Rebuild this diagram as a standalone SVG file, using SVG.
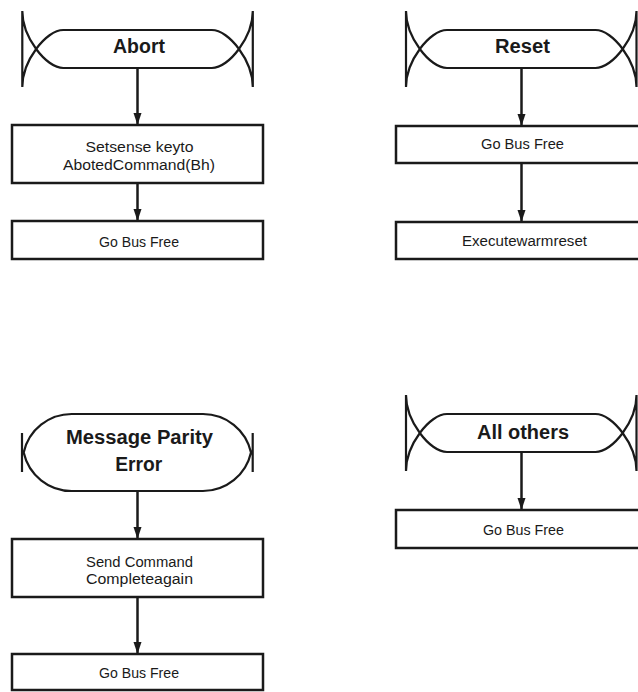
<svg xmlns="http://www.w3.org/2000/svg" xmlns:xlink="http://www.w3.org/1999/xlink" width="638" height="692" viewBox="0 0 638 692">
<style>
  .shape { fill: none; stroke: #1a1a1a; stroke-width: 2.2; }
  .box { fill: #ffffff; stroke: #1a1a1a; stroke-width: 2.5; }
  .conn { stroke: #1a1a1a; stroke-width: 2.5; fill: none; }
  .head { font-family: "Liberation Sans", Arial, sans-serif; font-weight: bold; font-size: 20px; fill: #1a1a1a; text-anchor: middle; }
  .lbl { font-family: "Liberation Sans", Arial, sans-serif; font-size: 15.5px; fill: #1a1a1a; text-anchor: middle; }
</style>
<defs>
  <path id="term" d="M0,0 V76 M230.5,0 V76 M41,19 H189.5 M41,57 H189.5 M41,19 C23.7,19 0,50 0,76 M41,57 C23.7,57 0,26 0,0 M189.5,19 C206.8,19 230.5,50 230.5,76 M189.5,57 C206.8,57 230.5,26 230.5,0"/>
  <marker id="arr" markerUnits="userSpaceOnUse" markerWidth="13" markerHeight="9" refX="12" refY="4.5" orient="auto">
    <path d="M0,0.5 L12,4.5 L0,8.5 Z" fill="#1a1a1a"/>
  </marker>
</defs>

<g id="connectors">
  <line class="conn" x1="137.5" y1="68" x2="137.5" y2="125" marker-end="url(#arr)"/>
  <line class="conn" x1="137.5" y1="183" x2="137.5" y2="221" marker-end="url(#arr)"/>
  <line class="conn" x1="521.5" y1="68" x2="521.5" y2="126" marker-end="url(#arr)"/>
  <line class="conn" x1="521.5" y1="163" x2="521.5" y2="222" marker-end="url(#arr)"/>
  <line class="conn" x1="137.5" y1="491" x2="137.5" y2="539" marker-end="url(#arr)"/>
  <line class="conn" x1="137.5" y1="597" x2="137.5" y2="654" marker-end="url(#arr)"/>
  <line class="conn" x1="521.5" y1="452" x2="521.5" y2="510" marker-end="url(#arr)"/>
</g>

<g id="abort">
  <use xlink:href="#term" href="#term" class="shape" transform="translate(22.3,11)"/>
  <text class="head" x="139" y="53.3" textLength="52" lengthAdjust="spacingAndGlyphs">Abort</text>
</g>
<g id="abort-setsense">
  <rect class="box" x="12" y="125" width="251" height="58"/>
  <text class="lbl" x="139.5" y="151.5" textLength="108" lengthAdjust="spacingAndGlyphs">Setsense keyto</text>
  <text class="lbl" x="139" y="169.5" textLength="152" lengthAdjust="spacingAndGlyphs">AbotedCommand(Bh)</text>
</g>
<g id="abort-gobusfree">
  <rect class="box" x="12" y="221" width="251" height="38"/>
  <text class="lbl" x="139" y="246.5" textLength="80" lengthAdjust="spacingAndGlyphs">Go Bus Free</text>
</g>

<g id="reset">
  <use xlink:href="#term" href="#term" class="shape" transform="translate(406,11)"/>
  <text class="head" x="522.5" y="53.3" textLength="55" lengthAdjust="spacingAndGlyphs">Reset</text>
</g>
<g id="reset-gobusfree">
  <rect class="box" x="396" y="126" width="251" height="37"/>
  <text class="lbl" x="522.5" y="149.3" textLength="83" lengthAdjust="spacingAndGlyphs">Go Bus Free</text>
</g>
<g id="reset-warmreset">
  <rect class="box" x="396" y="222" width="251" height="37"/>
  <text class="lbl" x="524.5" y="246" textLength="125" lengthAdjust="spacingAndGlyphs">Executewarmreset</text>
</g>

<g id="mpe">
  <path class="shape" d="M22,433 V472 M252.7,433 V472 M72,414 H203 A49.2,49.2 0 0 1 251,452.5 A49.2,49.2 0 0 1 203,491 H72 A49.2,49.2 0 0 1 23.7,452.5 A49.2,49.2 0 0 1 72,414 Z"/>
  <text class="head" x="139.5" y="444" textLength="147" lengthAdjust="spacingAndGlyphs">Message Parity</text>
  <text class="head" x="138.7" y="471" textLength="47" lengthAdjust="spacingAndGlyphs">Error</text>
</g>
<g id="mpe-send">
  <rect class="box" x="12" y="539" width="251" height="58"/>
  <text class="lbl" x="139.5" y="566.5" textLength="107" lengthAdjust="spacingAndGlyphs">Send Command</text>
  <text class="lbl" x="139.5" y="583.5" textLength="107" lengthAdjust="spacingAndGlyphs">Completeagain</text>
</g>
<g id="mpe-gobusfree">
  <rect class="box" x="12" y="654" width="251" height="36"/>
  <text class="lbl" x="139" y="678.3" textLength="80" lengthAdjust="spacingAndGlyphs">Go Bus Free</text>
</g>

<g id="allothers">
  <use xlink:href="#term" href="#term" class="shape" transform="translate(406,395)"/>
  <text class="head" x="523" y="439.3" textLength="92" lengthAdjust="spacingAndGlyphs">All others</text>
</g>
<g id="allothers-gobusfree">
  <rect class="box" x="396" y="510" width="251" height="38"/>
  <text class="lbl" x="523.5" y="535" textLength="81" lengthAdjust="spacingAndGlyphs">Go Bus Free</text>
</g>
</svg>
